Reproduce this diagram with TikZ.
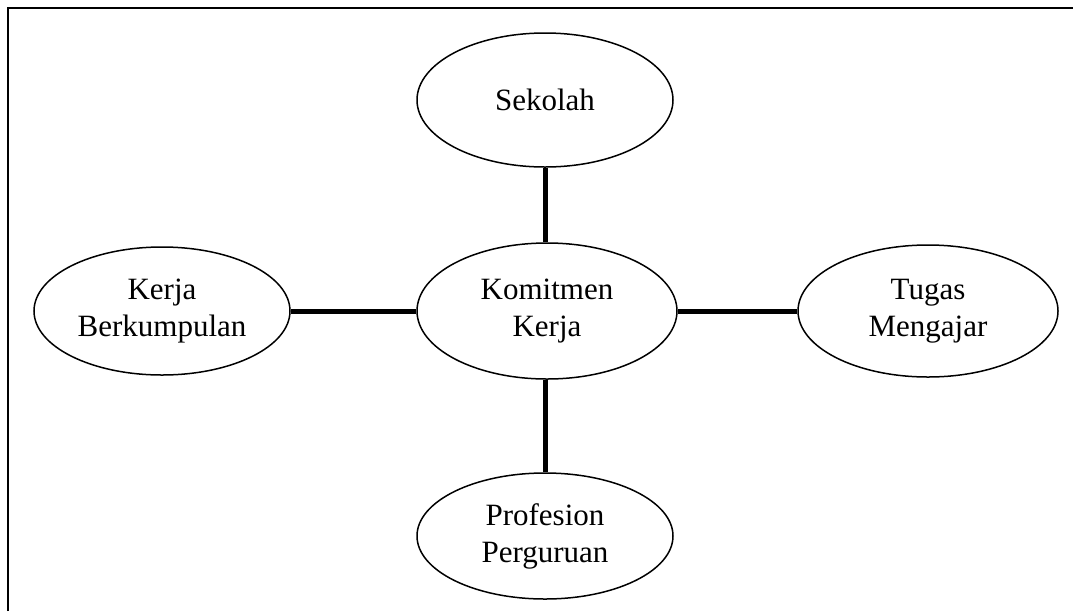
\documentclass[tikz,border=0pt]{standalone}
\usepackage{fontspec}
\setmainfont{Liberation Serif}
\usetikzlibrary{shapes.geometric}
\begin{document}
\begin{tikzpicture}[x=1pt,y=-1pt,
  oval/.style={ellipse,draw,line width=1.5pt,inner sep=0pt,align=center,
    font=\fontsize{31}{37}\selectfont},
  link/.style={line width=5pt}]
\useasboundingbox (0,0) rectangle (1073,611);
\draw[line width=2.5pt] (8,611) -- (8,8) -- (1073,8);
\node[oval,minimum width=256pt,minimum height=134pt] (s) at (545,100) {Sekolah};
\node[oval,minimum width=260pt,minimum height=136pt] (k) at (547,311) {Komitmen\\Kerja};
\node[oval,minimum width=256pt,minimum height=128pt] (b) at (162,311) {Kerja\\Berkumpulan};
\node[oval,minimum width=260pt,minimum height=132pt] (t) at (928,311) {Tugas\\Mengajar};
\node[oval,minimum width=256pt,minimum height=126pt] (p) at (545,536) {Profesion\\Perguruan};
\draw[link] (s.south) -- (s.south |- k.north);
\draw[link] (b.east) -- (k.west);
\draw[link] (k.east) -- (t.west);
\draw[link] (p.north |- k.south) -- (p.north);
\end{tikzpicture}
\end{document}
